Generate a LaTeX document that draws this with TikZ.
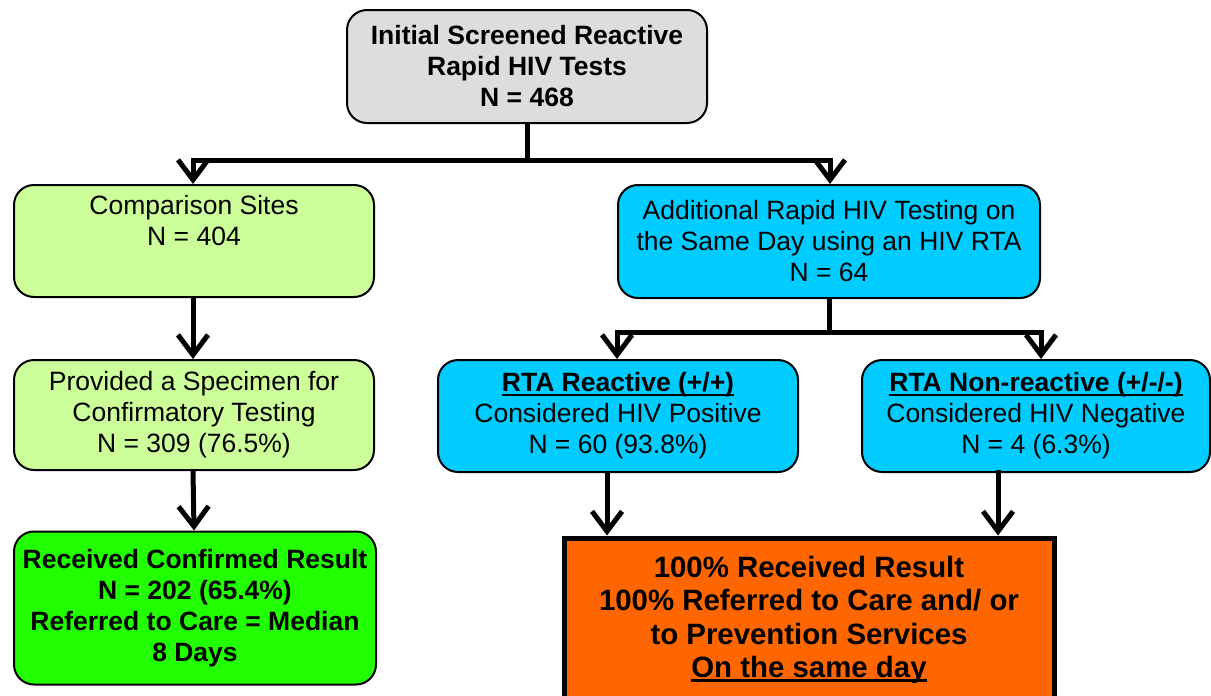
\documentclass[tikz,border=0pt]{standalone}
\usepackage{fontspec}
\setmainfont{Liberation Sans}
\usetikzlibrary{arrows.meta}
\definecolor{cgray}{HTML}{DDDDDD}
\definecolor{clgreen}{HTML}{CCFF99}
\definecolor{ccyan}{HTML}{00CCFF}
\definecolor{cgreen}{HTML}{22FF00}
\definecolor{corange}{HTML}{FF6600}
\newcommand\myul[1]{\begingroup\setbox0\hbox{#1}\rlap{\rule[-4.5pt]{\wd0}{2.6pt}}\box0\endgroup}
\tikzset{
  box/.style={draw=black, line width=2pt, rounded corners=20pt, align=center,
    font=\fontsize{26.5}{31}\selectfont, inner sep=0pt},
  arr/.style={line width=5pt, -{Straight Barb[length=20pt,width=30pt,sharp]}},
  conn/.style={line width=5pt}
}
\begin{document}
\begin{tikzpicture}[x=1pt,y=-1pt]
\useasboundingbox (0,0) rectangle (1211,696);
\begin{scope}
\clip (0,0) rectangle (1211,696);
\node[box, fill=cgray, minimum width=360pt, minimum height=113pt] (top) at (527,66.5)
  {\bfseries Initial Screened Reactive\\\bfseries Rapid HIV Tests\\\bfseries N = 468};
\node[box, fill=clgreen, minimum width=360pt, minimum height=112pt] (comp) at (194,241)
  {Comparison Sites\\N = 404\\\strut};
\node[box, fill=ccyan, minimum width=422pt, minimum height=113pt] (add) at (829,241.5)
  {Additional Rapid HIV Testing on\\the Same Day using an HIV RTA\\N = 64};
\node[box, fill=clgreen, minimum width=360pt, minimum height=110pt] (prov) at (194,415)
  {Provided a Specimen for\\Confirmatory Testing\\N = 309 (76.5\%)};
\node[box, fill=ccyan, minimum width=360pt, minimum height=112pt] (rta) at (618,416)
  {\bfseries\myul{RTA Reactive (+/+)}\\Considered HIV Positive\\N = 60 (93.8\%)};
\node[box, fill=ccyan, minimum width=348pt, minimum height=112pt] (non) at (1036,416)
  {\bfseries\myul{RTA Non-reactive (+/-/-)}\\Considered HIV Negative\\N = 4 (6.3\%)};
\node[box, fill=cgreen, minimum width=362pt, minimum height=153pt] (conf) at (195,608)
  {\bfseries Received Confirmed Result\\\bfseries N = 202 (65.4\%)\\\bfseries Referred to Care = Median\\\bfseries 8 Days};
\node[box, fill=corange, line width=5pt, rounded corners=0pt, minimum width=490pt, minimum height=164pt,
  font=\fontsize{29.4}{33.3}\selectfont] (res) at (809,620)
  {\bfseries 100\% Received Result\\\bfseries 100\% Referred to Care and/ or\\\bfseries to Prevention Services\\\bfseries\myul{On the same day}};
\end{scope}
\coordinate (j1) at (527,160);
\coordinate (j2) at (829,332);
\draw[conn] (top.south) -- (j1);
\draw[arr] (j1) -| ([xshift=-1pt]comp.north);
\draw[arr] (j1) -| ([xshift=1pt]add.north);
\draw[arr] ([xshift=-1pt]comp.south) -- ([xshift=-1pt]prov.north);
\draw[arr] ([xshift=-1pt]prov.south) -- ([xshift=-1pt]conf.north);
\draw[conn] (add.south) -- (j2);
\draw[arr] (j2) -| ([xshift=-1pt]rta.north);
\draw[arr] (j2) -| ([xshift=5pt]non.north);
\draw[arr] ([xshift=-11pt]rta.south) -- ([xshift=-11pt]rta.south |- res.north);
\draw[arr] ([xshift=-38pt,yshift=3pt]non.south) -- ([xshift=-38pt]non.south |- res.north);
\end{tikzpicture}
\end{document}
